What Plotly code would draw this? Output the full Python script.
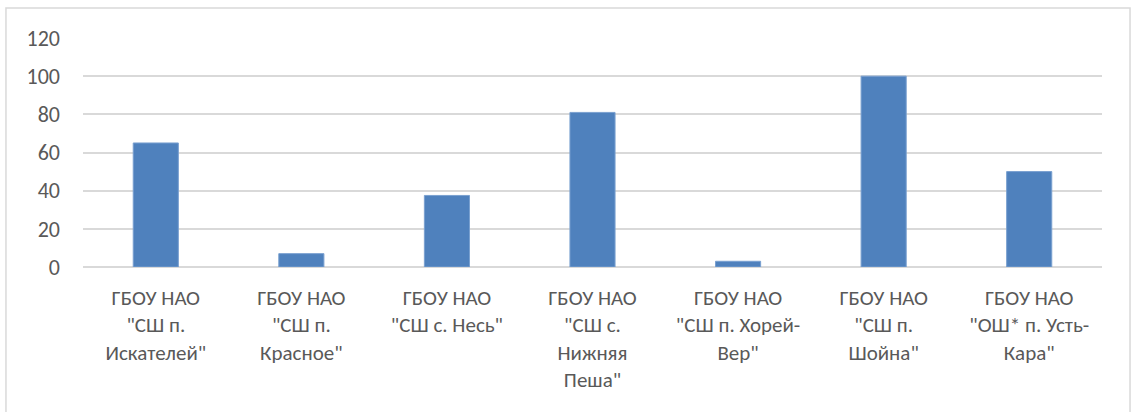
import plotly.graph_objects as go

categories = [
    'ГБОУ НАО<br>"СШ п.<br>Искателей"',
    'ГБОУ НАО<br>"СШ п.<br>Красное"',
    'ГБОУ НАО<br>"СШ с. Несь"',
    'ГБОУ НАО<br>"СШ с.<br>Нижняя<br>Пеша"',
    'ГБОУ НАО<br>"СШ п. Хорей-<br>Вер"',
    'ГБОУ НАО<br>"СШ п.<br>Шойна"',
    'ГБОУ НАО<br>"ОШ* п. Усть-<br>Кара"',
]
values = [65, 7, 37.5, 81, 3, 100, 50]
y_ticks = [0, 20, 40, 60, 80, 100, 120]

font_family = "Carlito, Calibri, Lato, sans-serif"
text_color = "#595959"
grid_color = "#d9d9d9"

fig = go.Figure(
    go.Bar(
        x=categories,
        y=values,
        marker=dict(color="#4f81bd", line=dict(color="#7aa0d0", width=1)),
    )
)

fig.update_layout(
    width=1131,
    height=412,
    margin=dict(l=83, r=29, t=38, b=145),
    paper_bgcolor="white",
    plot_bgcolor="white",
    bargap=0.69,
    showlegend=False,
    font=dict(family=font_family, size=21, color=text_color),
    shapes=[
        dict(
            type="rect", xref="paper", yref="paper",
            x0=-0.0756, x1=1.0275, y0=-0.66, y1=1.131,
            line=dict(color=grid_color, width=1.5), layer="below",
        )
    ],
)

fig.update_xaxes(
    showgrid=False,
    showline=False,
    zeroline=False,
    tickfont=dict(size=21, color=text_color),
    tickangle=0,
    ticks="",
    ticklabelstandoff=16,
)
fig.update_yaxes(
    range=[0, 120],
    tickvals=y_ticks,
    showgrid=True,
    gridcolor=grid_color,
    gridwidth=1.5,
    zeroline=True,
    zerolinecolor=grid_color,
    zerolinewidth=1.5,
    showline=False,
    ticks="",
    ticklabelstandoff=22,
    tickfont=dict(size=22, color=text_color),
)

fig.write_html(
    "out.html",
    config={"displayModeBar": False},
    post_script="document.body.style.margin='0';document.body.style.overflow='hidden';",
)
